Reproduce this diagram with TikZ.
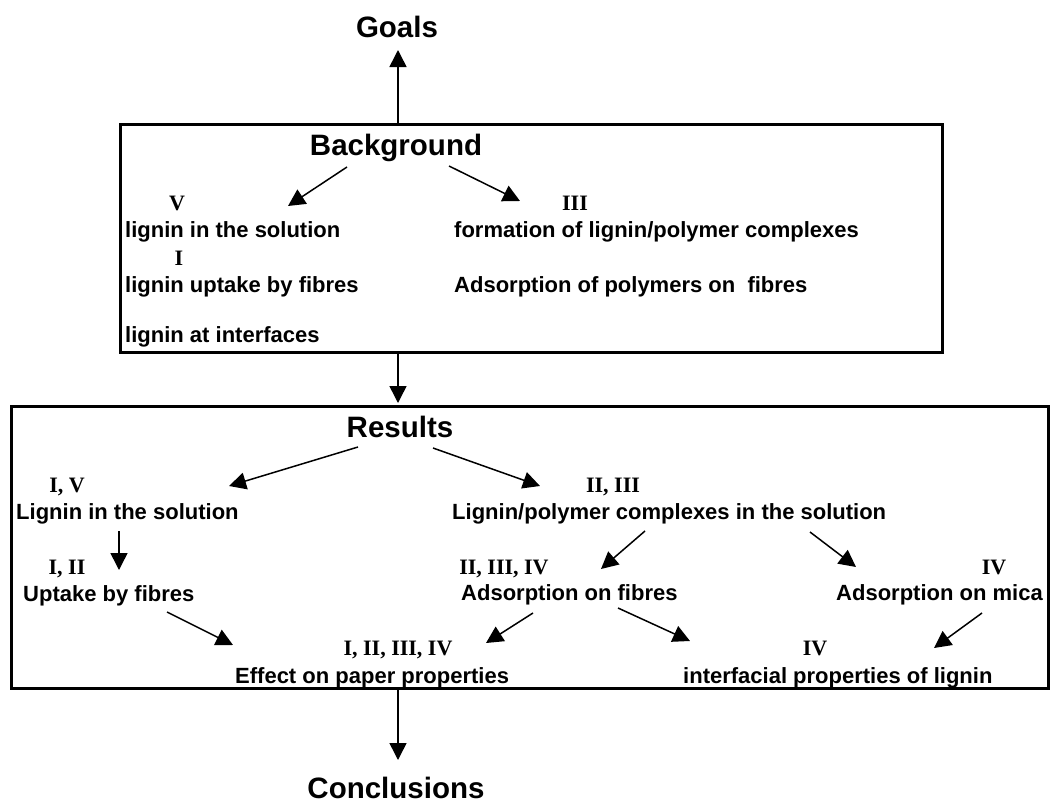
\documentclass[tikz,border=0pt]{standalone}
\usepackage{fontspec}
\setmainfont{Liberation Serif}
\newfontfamily\arialf{Liberation Sans}
\usetikzlibrary{arrows.meta}
\tikzset{
  big/.style={font=\arialf\bfseries\fontsize{29.5}{32}\selectfont, inner sep=0, anchor=base},
  lbl/.style={font=\arialf\bfseries\fontsize{22}{24}\selectfont, inner sep=0, anchor=base west},
  rom/.style={font=\bfseries\fontsize{22}{24}\selectfont, inner sep=0, anchor=base},
  arr/.style={line width=1.5pt, -{Triangle[length=17pt,width=17pt]}},
  framebox/.style={draw, line width=3pt, inner sep=0, outer sep=0}
}
\begin{document}
\begin{tikzpicture}[x=1pt,y=-1pt]
\useasboundingbox (0,0) rectangle (1050,803);
% boxes
\node[framebox, minimum width=822pt, minimum height=228pt] (bgbox) at (531,238) {};
\node[framebox, minimum width=1037pt, minimum height=282pt] (resbox) at (529.5,547) {};
% titles
\node[big] (goals) at (397,37) {Goals};
\node[big] (bg) at (396,155) {Background};
\node[big] (res) at (400,437) {Results};
\node[big] (conc) at (396,798) {Conclusions};
% background contents
\node[rom] (bgv) at (177,210) {V};
\node[lbl] (bgsol) at (125,237) {lignin in the solution};
\node[rom] (bgi) at (179,265) {I};
\node[lbl] (bgupt) at (125,292) {lignin uptake by fibres};
\node[lbl] (bgint) at (125,342) {lignin at interfaces};
\node[rom] (bgiii) at (575,210) {III};
\node[lbl] (bgform) at (454,237) {formation of lignin/polymer complexes};
\node[lbl] (bgads) at (454,292) {Adsorption of polymers on\ \ fibres};
% results contents
\node[rom] (riv1) at (67,492) {I, V};
\node[lbl] (rsol) at (16,519) {Lignin in the solution};
\node[rom] (rii1) at (67,574) {I, II};
\node[lbl] (rupt) at (23,601) {Uptake by fibres};
\node[rom] (rall) at (398,655) {I, II, III, IV};
\node[lbl] (reff) at (235,683) {Effect on paper properties};
\node[rom] (rii3) at (613,492) {II, III};
\node[lbl] (rlp) at (452,519) {Lignin/polymer complexes in the solution};
\node[rom] (rii4) at (504,574) {II, III, IV};
\node[lbl] (radf) at (461,600) {Adsorption on fibres};
\node[rom] (rivm) at (994,574) {IV};
\node[lbl] (radm) at (836,600) {Adsorption on mica};
\node[rom] (rivi) at (815,655) {IV};
\node[lbl] (rint) at (683,683) {interfacial properties of lignin};
% arrow end points
\coordinate (goaltip) at (398,50);
\coordinate (conctip) at (398,760);
\coordinate (bgLs) at (347,167); \coordinate (bgLe) at (288,206);
\coordinate (bgRs) at (449,166); \coordinate (bgRe) at (520,201);
\coordinate (rLs) at (358,447);  \coordinate (rLe) at (229,486);
\coordinate (rRs) at (433,448);  \coordinate (rRe) at (540,486);
\coordinate (sDs) at (119,531);  \coordinate (sDe) at (119,570);
\coordinate (uEs) at (167,612);  \coordinate (uEe) at (233,645);
\coordinate (lpAs) at (645,531); \coordinate (lpAe) at (601,569);
\coordinate (lpMs) at (810,532); \coordinate (lpMe) at (856,567);
\coordinate (afEs) at (533,613); \coordinate (afEe) at (486,643);
\coordinate (afIs) at (618,608); \coordinate (afIe) at (690,641);
\coordinate (mIs) at (982,613);  \coordinate (mIe) at (934,648);
% connectors
\draw[arr] (bgbox.north -| goaltip) -- (goaltip);
\draw[arr, shorten >=3pt] (bgbox.south -| goaltip) -- (resbox.north -| goaltip);
\draw[arr] (resbox.south -| conctip) -- (conctip);
\draw[arr] (bgLs) -- (bgLe);
\draw[arr] (bgRs) -- (bgRe);
\draw[arr] (rLs) -- (rLe);
\draw[arr] (rRs) -- (rRe);
\draw[arr] (sDs) -- (sDe);
\draw[arr] (uEs) -- (uEe);
\draw[arr] (lpAs) -- (lpAe);
\draw[arr] (lpMs) -- (lpMe);
\draw[arr] (afEs) -- (afEe);
\draw[arr] (afIs) -- (afIe);
\draw[arr] (mIs) -- (mIe);
\end{tikzpicture}
\end{document}
